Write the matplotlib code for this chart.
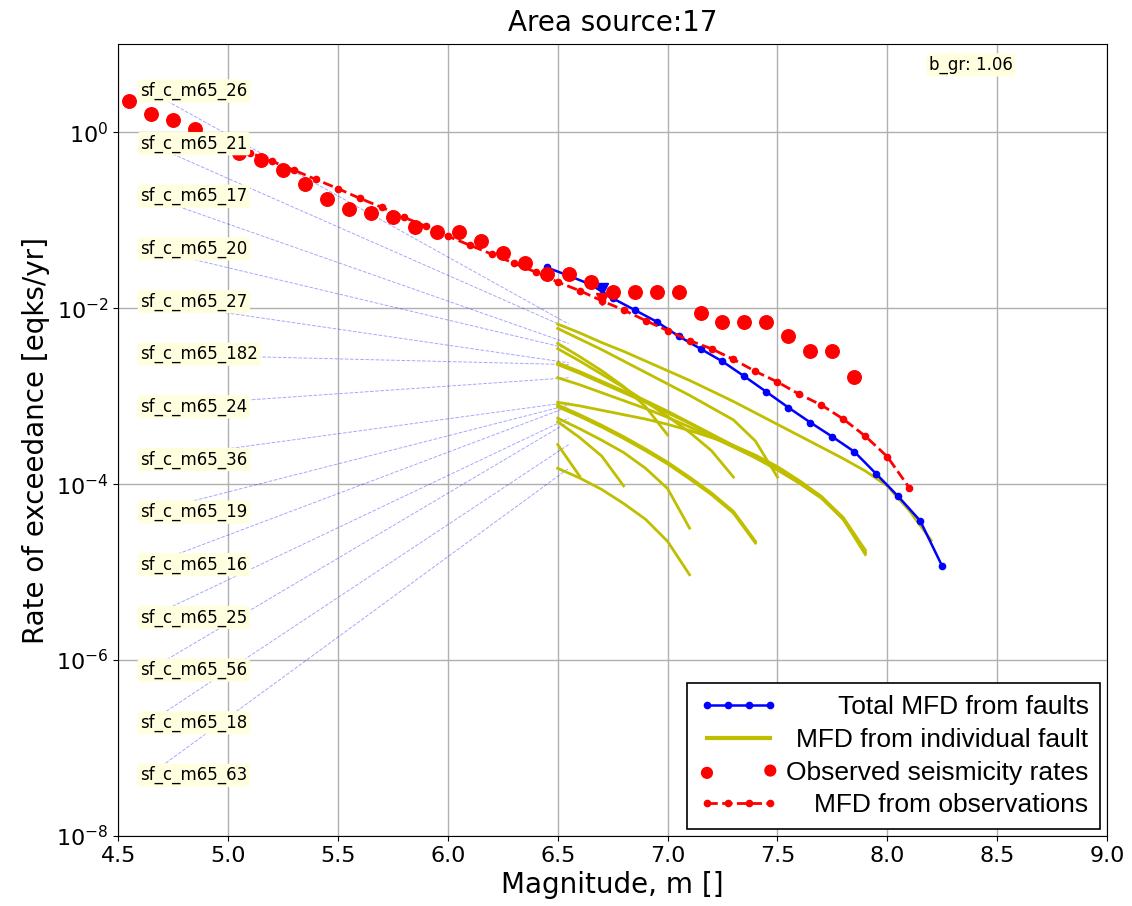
import numpy as np
import matplotlib.pyplot as plt
from matplotlib.lines import Line2D
from matplotlib.ticker import NullLocator

# observed cumulative rates (log10 of rate)
obs_mag = [4.55, 4.65, 4.75, 4.85, 4.95, 5.05, 5.15, 5.25, 5.35, 5.45, 5.55, 5.65,
           5.75, 5.85, 5.95, 6.05, 6.15, 6.25, 6.35, 6.45, 6.55, 6.65, 6.75, 6.85,
           6.95, 7.05, 7.15, 7.25, 7.35, 7.45, 7.55, 7.65, 7.75, 7.85]
obs_log = [0.351, 0.212, 0.136, 0.039, -0.07, -0.233, -0.309, -0.430, -0.584, -0.762,
           -0.875, -0.913, -0.958, -1.071, -1.128, -1.128, -1.241, -1.377, -1.490,
           -1.615, -1.615, -1.706, -1.815, -1.815, -1.815, -1.815, -2.053, -2.155,
           -2.155, -2.155, -2.314, -2.484, -2.484, -2.778]

# MFD from observations (b_gr 1.06)
fit_mag = [5.0, 5.1, 5.2, 5.3, 5.4, 5.5, 5.6, 5.7, 5.8, 5.9, 6.0, 6.1, 6.2, 6.3, 6.4,
           6.5, 6.6, 6.7, 6.8, 6.9, 7.0, 7.1, 7.2, 7.3, 7.4, 7.5, 7.6, 7.7, 7.8, 7.9,
           8.0, 8.1]
fit_log = [-0.12, -0.231, -0.33, -0.43, -0.536, -0.64, -0.751, -0.853, -0.966, -1.068,
           -1.181, -1.283, -1.385, -1.487, -1.589, -1.702, -1.80, -1.914, -2.02, -2.14,
           -2.254, -2.367, -2.461, -2.582, -2.718, -2.838, -2.978, -3.10, -3.26, -3.454,
           -3.687, -4.04]

# total MFD from faults
tot_mag = [6.45, 6.55, 6.65, 6.75, 6.85, 6.95, 7.05, 7.15, 7.25, 7.35, 7.45, 7.55,
           7.65, 7.75, 7.85, 7.95, 8.05, 8.15, 8.25]
tot_log = [-1.536, -1.63, -1.73, -1.887, -2.019, -2.152, -2.317, -2.461, -2.605, -2.775,
           -2.951, -3.129, -3.299, -3.461, -3.631, -3.884, -4.14, -4.417, -4.933]

# the two small triangles at m 6.7
tri_mag = [6.7]
tri_blue_log = [-1.78]
tri_red_log = [-1.90]

# individual faults, log10 rate from m 6.5 in steps of 0.1
fault_names = ['sf_c_m65_26', 'sf_c_m65_21', 'sf_c_m65_17', 'sf_c_m65_20',
               'sf_c_m65_27', 'sf_c_m65_182', 'sf_c_m65_24', 'sf_c_m65_36',
               'sf_c_m65_19', 'sf_c_m65_16', 'sf_c_m65_25', 'sf_c_m65_56',
               'sf_c_m65_18', 'sf_c_m65_63']
fault_logs = [
    [-2.18, -2.28, -2.39, -2.49, -2.60, -2.71, -2.82, -2.94, -3.06, -3.19, -3.32, -3.45,
     -3.58, -3.71, -3.85, -4.02, -4.30, -4.64],
    [-2.23, -2.35, -2.47, -2.60, -2.73, -2.86, -2.99, -3.13, -3.27, -3.51, -3.92],
    [-2.40, -2.55, -2.71, -2.89, -3.12, -3.44],
    [-2.46, -2.60, -2.75, -2.90, -3.06, -3.23, -3.41, -3.62, -3.92],
    [-2.62, -2.72, -2.83, -2.94, -3.05, -3.17, -3.30, -3.43, -3.56, -3.69, -3.82, -3.97,
     -4.14, -4.38, -4.75],
    [-2.64, -2.74, -2.85, -2.96, -3.07, -3.19, -3.31, -3.44, -3.57, -3.70, -3.84, -3.99,
     -4.16, -4.40, -4.77],
    [-2.79, -2.87, -2.96, -3.05, -3.14, -3.24, -3.35, -3.46, -3.58, -3.70, -3.83, -3.98,
     -4.15, -4.40, -4.78],
    [-3.07, -3.11, -3.16, -3.21, -3.26, -3.32, -3.39, -3.47, -3.56, -3.67, -3.80, -3.96,
     -4.14, -4.40, -4.80],
    [-3.10, -3.21, -3.33, -3.46, -3.60, -3.75, -3.92, -4.10, -4.31, -4.65],
    [-3.12, -3.23, -3.35, -3.48, -3.62, -3.77, -3.94, -4.12, -4.33, -4.67],
    [-3.25, -3.37, -3.50, -3.64, -3.82, -4.05, -4.50],
    [-3.29, -3.47, -3.68, -4.02],
    [-3.55, -3.91],
    [-3.82, -3.93, -4.06, -4.22, -4.40, -4.65, -5.03],
]
b_gr = 1.06

fig = plt.figure(figsize=(11.32, 9.06), dpi=100)
ax = fig.add_axes([0.1045, 0.0773, 0.8734, 0.8737])
ax.set_yscale('log')

# faults + label connectors
for i, (name, vals) in enumerate(zip(fault_names, fault_logs)):
    mags = 6.5 + 0.1 * np.arange(len(vals))
    ax.plot(mags, 10 ** np.array(vals), color='y', lw=2, zorder=2)
    yfrac = 0.9411 - i * 0.0665
    ylab = 10 ** (-8 + 9 * yfrac)
    ax.plot([4.64, 6.55], [ylab, 10 ** vals[0]], color='b', lw=0.7, alpha=0.35,
            ls='--', zorder=1.5)
    ax.text(4.6, yfrac, name, transform=ax.get_xaxis_transform(), fontsize=12,
            ha='left', va='center', zorder=10,
            bbox=dict(boxstyle='round,pad=0.15', fc='lightyellow', ec='none'))

ax.plot(tot_mag, 10 ** np.array(tot_log), 'b-', marker='o', ms=4.5, lw=1.8, zorder=4)
ax.plot(fit_mag, 10 ** np.array(fit_log), 'r--', marker='o', ms=4.5, lw=2, zorder=4.5)
ax.scatter(obs_mag, 10 ** np.array(obs_log), s=95, c='r', zorder=5)
ax.plot(tri_mag, 10 ** np.array(tri_blue_log), 'bv', ms=9, zorder=4)
ax.plot(tri_mag, 10 ** np.array(tri_red_log), 'rv', ms=8, zorder=4.5)

ax.text(8.19, 10 ** 0.767, 'b_gr: %.2f' % b_gr, fontsize=12, ha='left', va='center',
        bbox=dict(boxstyle='round,pad=0.15', fc='lightyellow', ec='none'))

ax.set_xlim(4.5, 9.0)
ax.set_ylim(1e-8, 1e1)
ax.set_xticks(np.arange(4.5, 9.01, 0.5))
ax.set_yticks([1e-8, 1e-6, 1e-4, 1e-2, 1e0])
ax.yaxis.set_minor_locator(NullLocator())
ax.tick_params(labelsize=16)
ax.grid(True, color='#b0b0b0', lw=1.0)
ax.set_axisbelow(True)
ax.set_title('Area source:17', fontsize=20, pad=10)
ax.set_xlabel('Magnitude, m []', fontsize=20)
ax.set_ylabel('Rate of exceedance [eqks/yr]', fontsize=20)

handles = [
    Line2D([], [], color='b', marker='o', ms=4.5, lw=1.8),
    Line2D([], [], color='y', lw=3),
    ax.scatter([], [], s=60, c='r'),
    Line2D([], [], color='r', ls='--', marker='o', ms=4.5, lw=2),
]
labels = ['Total MFD from faults', 'MFD from individual fault',
          'Observed seismicity rates', 'MFD from observations']
leg = ax.legend(handles, labels, loc='lower right', numpoints=4, scatterpoints=2,
                prop={'family': 'Liberation Sans', 'size': 19}, fancybox=False,
                framealpha=1, edgecolor='k', borderaxespad=0.25, borderpad=0.45,
                handlelength=3.0, handletextpad=0.3, labelspacing=0.33)
leg.get_frame().set_linewidth(1.2)
leg.set_zorder(20)

# right-align the legend texts: shift each one by its missing width
fig.canvas.draw()
r = fig.canvas.get_renderer()
widths = [t.get_window_extent(r).width for t in leg.get_texts()]
w = max(widths)
for t, wi in zip(leg.get_texts(), widths):
    t.set_position((w - wi, 0))

plt.savefig('out.png', dpi=100)
plt.close()
